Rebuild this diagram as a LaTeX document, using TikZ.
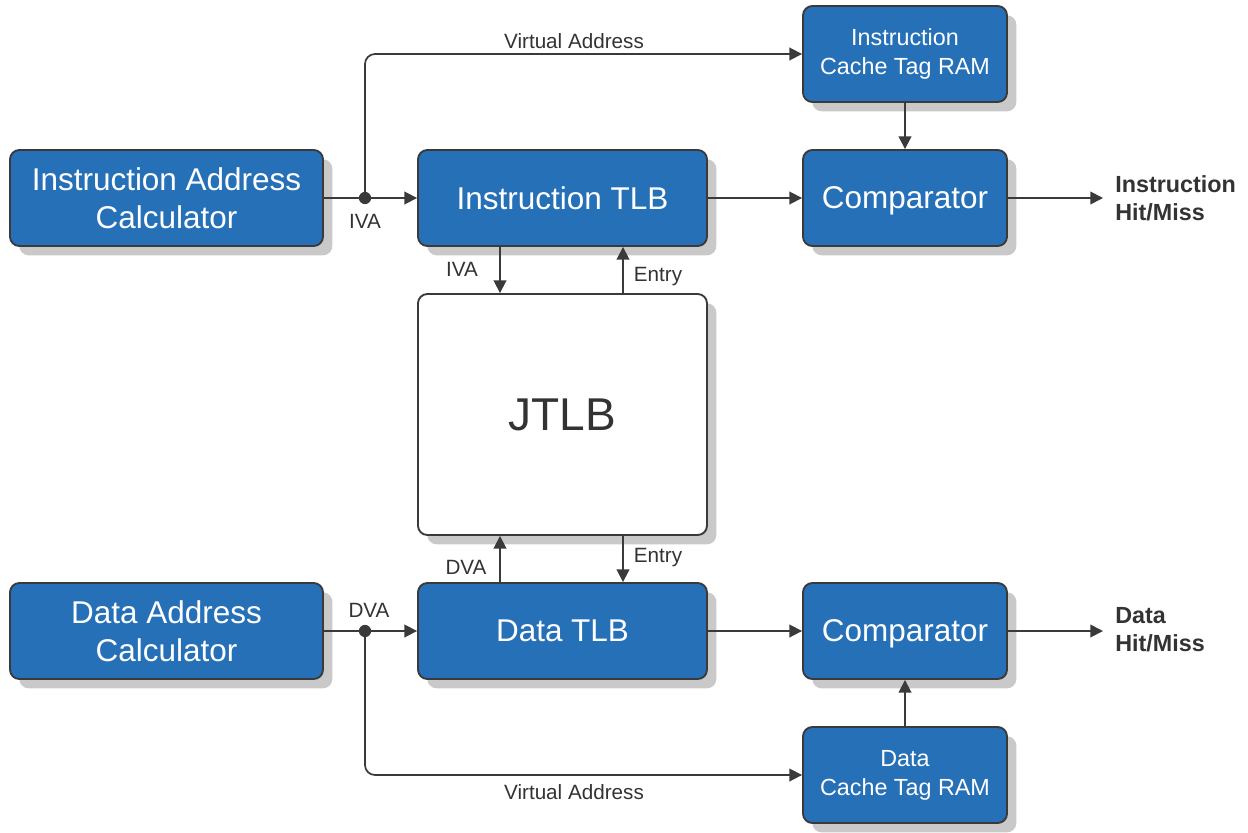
\documentclass[tikz,border=0pt]{standalone}
\usepackage{fontspec}
\setmainfont{Liberation Sans}
\usetikzlibrary{arrows.meta,shadows,calc}

\definecolor{boxblue}{HTML}{2670B8}
\definecolor{edge}{HTML}{3A3A3A}
\definecolor{ink}{HTML}{333333}
\definecolor{shade}{HTML}{C9C9C9}

\tikzset{
  unitbox/.style={rectangle, rounded corners=7pt, draw=edge, line width=1.4pt,
    inner sep=0pt, align=center,
    drop shadow={shadow xshift=7pt, shadow yshift=-7pt, fill=shade, opacity=1}},
  bluebox/.style={unitbox, fill=boxblue, text=white},
  bigtext/.style={font=\fontsize{23.6}{28.5}\selectfont},
  smalltext/.style={font=\fontsize{17.5}{21.8}\selectfont},
  nodesc/.style={text depth=0pt},
  wide/.style={minimum width=234.75pt, minimum height=72pt},
  tlb/.style={minimum width=216.75pt, minimum height=72pt},
  narrow/.style={minimum width=153pt, minimum height=72pt},
  arr/.style={draw=edge, line width=1.3pt, -{Triangle[length=9.5pt,width=9.5pt]}},
  lbl/.style={text=ink, inner sep=0pt, font=\fontsize{15.5}{18}\selectfont},
  outlbl/.style={text=ink, inner sep=0pt, anchor=west, align=left,
    font=\fontsize{17.5}{21}\selectfont\bfseries},
  junction/.style={fill=edge},
}

\begin{document}
\begin{tikzpicture}[x=0.75pt, y=-0.75pt]
\useasboundingbox (0,0) rectangle (1248,832);

% instruction side
\node[bluebox, bigtext, wide]   (IAC)  at (166.5,198) {Instruction Address\\Calculator};
\node[bluebox, bigtext, tlb]    (ITLB) at (562.5,198) {Instruction TLB};
\node[bluebox, smalltext, narrow] (ICTR) at (905,54)   {Instruction\\Cache Tag RAM};
\node[bluebox, bigtext, narrow, nodesc] (ICMP) at (905,198) {Comparator};

% shared TLB
\node[unitbox, fill=white, text=ink, minimum width=216.75pt, minimum height=180.75pt,
      font=\fontsize{34.5}{40}\selectfont] (JTLB) at (562.5,414.5) {JTLB};

% data side
\node[bluebox, bigtext, wide]   (DAC)  at (166.5,631) {Data Address\\Calculator};
\node[bluebox, bigtext, tlb]    (DTLB) at (562.5,631) {Data TLB};
\node[bluebox, bigtext, narrow, nodesc] (DCMP) at (905,631) {Comparator};
\node[bluebox, smalltext, narrow] (DCTR) at (905,775)  {Data\\Cache Tag RAM};

% result labels
\node[outlbl] (IHM) at (1115,198) {Instruction\\Hit/Miss};
\node[outlbl] (DHM) at (1115,630) {Data\\Hit/Miss};

% junction points on the address buses
\coordinate (iva) at (365,198);
\coordinate (dva) at (365,631);

% instruction path
\draw[arr] (IAC.east) -- (ITLB.west);
\fill[junction] (iva) circle (4.6pt);
\draw[arr, rounded corners=7.5pt] (iva) |- (ICTR.west);
\draw[arr] (ITLB.east) -- (ICMP.west);
\draw[arr] (ICTR.south) -- (ICMP.north);
\draw[arr] (ICMP.east) -- ([xshift=-9pt]IHM.west |- ICMP.east);
\draw[arr] ($(ITLB.south)+(-62.5,0)$) -- ($(JTLB.north)+(-62.5,0)$);
\draw[arr] ($(JTLB.north)+(60.5,0)$) -- ($(ITLB.south)+(60.5,0)$);

% data path
\draw[arr] (DAC.east) -- (DTLB.west);
\fill[junction] (dva) circle (4.6pt);
\draw[arr, rounded corners=7.5pt] (dva) |- (DCTR.west);
\draw[arr] (DTLB.east) -- (DCMP.west);
\draw[arr] (DCTR.north) -- (DCMP.south);
\draw[arr] (DCMP.east) -- ([xshift=-9pt]DHM.west |- DCMP.east);
\draw[arr] ($(DTLB.north)+(-62.5,0)$) -- ($(JTLB.south)+(-62.5,0)$);
\draw[arr] ($(JTLB.south)+(60.5,0)$) -- ($(DTLB.north)+(60.5,0)$);

% bus labels
\node[lbl] (vat) at (574,41)  {Virtual Address};
\node[lbl] (vab) at (574,792) {Virtual Address};
\node[lbl] (ivaA) at (365,221) {IVA};
\node[lbl] (ivaB) at (462,269) {IVA};
\node[lbl] (entA) at (658,277) {Entry};
\node[lbl] (dvaB) at (466,567) {DVA};
\node[lbl] (entB) at (658,558) {Entry};
\node[lbl] (dvaA) at (369,610) {DVA};
\end{tikzpicture}
\end{document}
